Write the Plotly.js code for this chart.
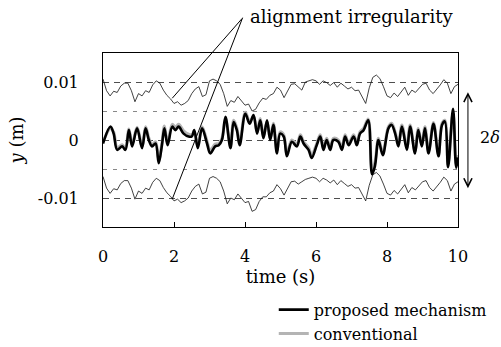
<!DOCTYPE html>
<html>
<head>
<meta charset="utf-8">
<script src="https://cdn.plot.ly/plotly-3.0.1.min.js"></script>
<style>html,body{margin:0;padding:0;background:#fff;}#chart{width:501px;height:347px;}</style>
</head>
<body>
<div id="chart"></div>
<script>
// ---- data (mm) ----
const irrTime = [0.0,0.1,0.2,0.3,0.4,0.5,0.6,0.7,0.8,0.9,1.0,1.1,1.2,1.3,1.4,1.5,1.6,1.7,1.8,1.9,2.0,2.1,2.2,2.3,2.4,2.5,2.6,2.7,2.8,2.9,3.0,3.1,3.2,3.3,3.4,3.5,3.6,3.7,3.8,3.9,4.0,4.1,4.2,4.3,4.4,4.5,4.6,4.7,4.8,4.9,5.0,5.1,5.2,5.3,5.4,5.5,5.6,5.7,5.8,5.9,6.0,6.1,6.2,6.3,6.4,6.5,6.6,6.7,6.8,6.9,7.0,7.1,7.2,7.3,7.4,7.5,7.6,7.7,7.8,7.9,8.0,8.1,8.2,8.3,8.4,8.5,8.6,8.7,8.8,8.9,9.0,9.1,9.2,9.3,9.4,9.5,9.6,9.7,9.8,9.9,10.0];
const irrUpper = [10.5,8.5,7.6,8.4,8.2,9.3,9.8,9.8,8.5,6.6,8.0,7.6,8.5,8.2,9.5,10.2,9.8,8.6,7.7,7.1,6.3,6.6,6.0,6.3,6.8,8.0,8.8,9.2,7.5,7.8,10.2,10.5,10.2,9.6,8.0,5.8,6.8,6.5,7.5,6.8,6.0,6.2,5.0,5.3,6.4,7.2,7.0,7.7,8.0,9.1,8.6,7.3,8.4,9.6,9.7,9.2,8.6,10.0,10.2,10.4,10.2,9.6,10.2,9.9,9.4,9.9,9.1,9.8,9.3,8.8,9.1,8.5,8.6,7.5,6.3,9.0,10.8,11.2,10.6,9.2,7.6,7.3,8.1,7.5,8.3,9.1,7.7,8.6,8.2,9.0,9.6,9.8,8.6,8.0,8.7,9.5,10.4,9.8,8.0,9.2,9.6];
const irrLower = [-6.3,-8.3,-9.2,-8.4,-8.6,-7.5,-7.0,-7.0,-8.3,-10.2,-8.8,-9.2,-8.3,-8.6,-7.3,-6.6,-7.0,-8.2,-9.1,-9.7,-10.5,-10.2,-10.8,-10.5,-10.0,-8.8,-8.0,-7.6,-9.3,-9.0,-6.6,-6.3,-6.6,-7.2,-8.8,-11.0,-10.0,-10.3,-9.3,-10.0,-10.8,-10.6,-12.3,-12.0,-10.6,-9.8,-9.8,-9.1,-8.8,-7.7,-8.4,-9.5,-8.4,-7.2,-7.1,-7.6,-7.2,-6.8,-6.6,-6.4,-6.6,-7.2,-6.6,-6.9,-7.4,-6.9,-7.7,-7.0,-7.5,-8.0,-7.7,-8.3,-8.2,-9.3,-10.5,-7.8,-6.0,-5.6,-6.2,-7.6,-9.2,-9.5,-8.7,-9.3,-8.5,-7.7,-9.1,-8.2,-8.6,-7.8,-7.2,-7.0,-8.2,-8.8,-8.1,-7.3,-6.4,-7.0,-8.8,-7.6,-7.2];

const respTime = [0.0,0.21,0.30,0.40,0.54,0.63,0.73,0.82,0.96,1.10,1.20,1.29,1.38,1.48,1.57,1.66,1.73,1.82,1.95,2.04,2.13,2.27,2.41,2.50,2.57,2.67,2.79,2.93,3.02,3.16,3.26,3.35,3.45,3.59,3.68,3.77,3.85,4.01,4.13,4.24,4.34,4.43,4.52,4.62,4.71,4.80,4.90,4.99,5.09,5.18,5.32,5.46,5.56,5.65,5.79,5.88,6.02,6.12,6.21,6.30,6.40,6.49,6.63,6.73,6.82,6.92,7.06,7.15,7.24,7.34,7.47,7.58,7.66,7.76,7.88,8.04,8.13,8.23,8.32,8.42,8.56,8.65,8.79,8.88,8.98,9.07,9.17,9.31,9.45,9.55,9.63,9.72,9.86,9.95,10.0];
const proposed = [-0.6,2.3,1.1,-1.7,-1.1,-1.7,1.7,-1.1,2.0,-1.4,2.0,0.0,-1.1,-0.6,-4.0,-0.9,2.0,-0.9,2.3,1.7,2.3,1.1,0.6,0.6,1.7,-1.4,2.0,-0.6,-2.3,-1.1,-0.9,0.0,4.0,-1.4,3.1,1.7,-0.9,4.5,2.8,4.3,1.1,3.4,0.3,3.4,0.0,2.6,-2.3,1.1,0.6,-2.8,-0.3,-1.1,0.6,-0.6,-1.7,-3.1,-0.9,0.6,-1.7,0.0,-1.7,0.0,-0.3,-1.7,0.6,-0.9,0.6,-0.9,1.1,1.7,3.4,-5.9,-4.5,0.0,-2.6,2.0,2.6,1.1,-1.1,2.3,-1.7,2.3,-2.3,1.7,-1.1,2.0,-2.3,2.8,-2.8,2.6,3.2,-4.7,5.4,-4.8,-3.0];
const conventional = [-0.3,2.0,1.4,-1.3,-0.8,-1.4,1.9,-0.8,2.2,-1.0,2.3,0.4,-0.8,-0.3,-3.4,-0.5,2.4,-0.4,2.7,2.2,2.7,1.6,1.0,0.9,1.4,-1.0,2.3,-0.2,-1.8,-0.7,-0.6,0.3,3.6,-1.0,3.4,2.1,-0.5,4.8,3.2,4.0,1.5,3.7,0.6,3.1,0.3,2.9,-1.8,1.4,0.9,-2.3,0.0,-0.7,0.9,-0.3,-1.3,-2.6,-0.6,0.9,-1.3,0.3,-1.3,0.3,0.0,-1.3,0.9,-0.6,0.9,-0.5,1.4,2.0,3.6,-5.0,-3.8,0.3,-2.2,2.3,2.9,1.4,-0.7,2.6,-1.3,2.6,-1.9,2.0,-0.8,2.3,-1.9,3.0,-2.4,2.9,3.4,-4.2,4.6,-4.3,-2.6];

const toM = a => a.map(v => v / 1000);
const serif = '"DejaVu Serif", "Liberation Serif", serif';

const traces = [
  {x: irrTime, y: toM(irrUpper), mode: 'lines', line: {color: '#111', width: 0.8}, showlegend: false, hoverinfo: 'skip'},
  {x: irrTime, y: toM(irrLower), mode: 'lines', line: {color: '#111', width: 0.8}, showlegend: false, hoverinfo: 'skip'},
  {x: respTime, y: toM(conventional), mode: 'lines', name: 'conventional', line: {color: '#b4b4b4', width: 3, shape: 'spline', smoothing: 1}},
  {x: respTime, y: toM(proposed), mode: 'lines', name: 'proposed mechanism', line: {color: '#000000', width: 2.6, shape: 'spline', smoothing: 1}}
];

const layout = {
  width: 501, height: 347,
  margin: {l: 102.5, r: 43, t: 53, b: 120, autoexpand: false},
  paper_bgcolor: '#fff', plot_bgcolor: '#fff',
  font: {family: serif, size: 15, color: '#000'},
  showlegend: true,
  legend: {x: 0.481, xanchor: 'left', y: -0.378, yanchor: 'top', traceorder: 'reversed',
           font: {family: serif, size: 16, color: '#000'}, bgcolor: 'rgba(0,0,0,0)', tracegroupgap: 0},
  xaxis: {range: [0, 10], tickvals: [0, 2, 4, 6, 8, 10], ticks: 'inside', ticklen: 5, tickcolor: '#000',
          showline: true, mirror: true, linecolor: '#000', linewidth: 1, showgrid: false, zeroline: false,
          ticklabelstandoff: 15, tickfont: {family: serif, size: 16},
          title: {text: 'time (s)', font: {family: serif, size: 18}, standoff: 4}},
  yaxis: {range: [-0.015, 0.015], tickvals: [-0.01, 0, 0.01], ticktext: ['-0.01', '0', '0.01'],
          ticks: '', showline: true, mirror: true, linecolor: '#000', linewidth: 1, zeroline: false,
          showgrid: true, gridcolor: '#222', gridwidth: 0.8, griddash: '6px,5px',
          minor: {tickvals: [-0.005, 0.005], showgrid: true, gridcolor: '#555', gridwidth: 0.7, griddash: '4px,6px'},
          ticklabelstandoff: 20, tickfont: {family: serif, size: 16},
          title: {text: '<i>y</i> (m)', font: {family: serif, size: 18}, standoff: 9}},
  annotations: [
    {xref: 'paper', yref: 'paper', x: 0.70, y: 1.207, text: 'alignment irregularity', showarrow: false,
     font: {family: serif, size: 18}, xanchor: 'center', yanchor: 'middle'},
    {xref: 'x', yref: 'y', x: 1.95, y: 0.0072, text: '', showarrow: true, arrowhead: 0, arrowwidth: 1,
     arrowcolor: '#000', ax: 71, ay: -81, standoff: 0},
    {xref: 'x', yref: 'y', x: 1.95, y: -0.0102, text: '', showarrow: true, arrowhead: 0, arrowwidth: 1,
     arrowcolor: '#000', ax: 71, ay: -183, standoff: 0},
    {xref: 'paper', yref: 'y', x: 1.028, y: -0.0083, axref: 'pixel', ax: 0, ayref: 'y', ay: 0.0085,
     text: '', showarrow: true, arrowside: 'end+start', arrowhead: 5, arrowsize: 1.6, arrowwidth: 1,
     arrowcolor: '#000', standoff: 0, startstandoff: 0},
    {xref: 'paper', yref: 'y', x: 1.09, y: 0.0004, text: '2<i>δ</i>', showarrow: false,
     font: {family: serif, size: 16}, xanchor: 'center', yanchor: 'middle'}
  ]
};

Plotly.newPlot('chart', traces, layout, {displayModeBar: false, staticPlot: true});
</script>
</body>
</html>
